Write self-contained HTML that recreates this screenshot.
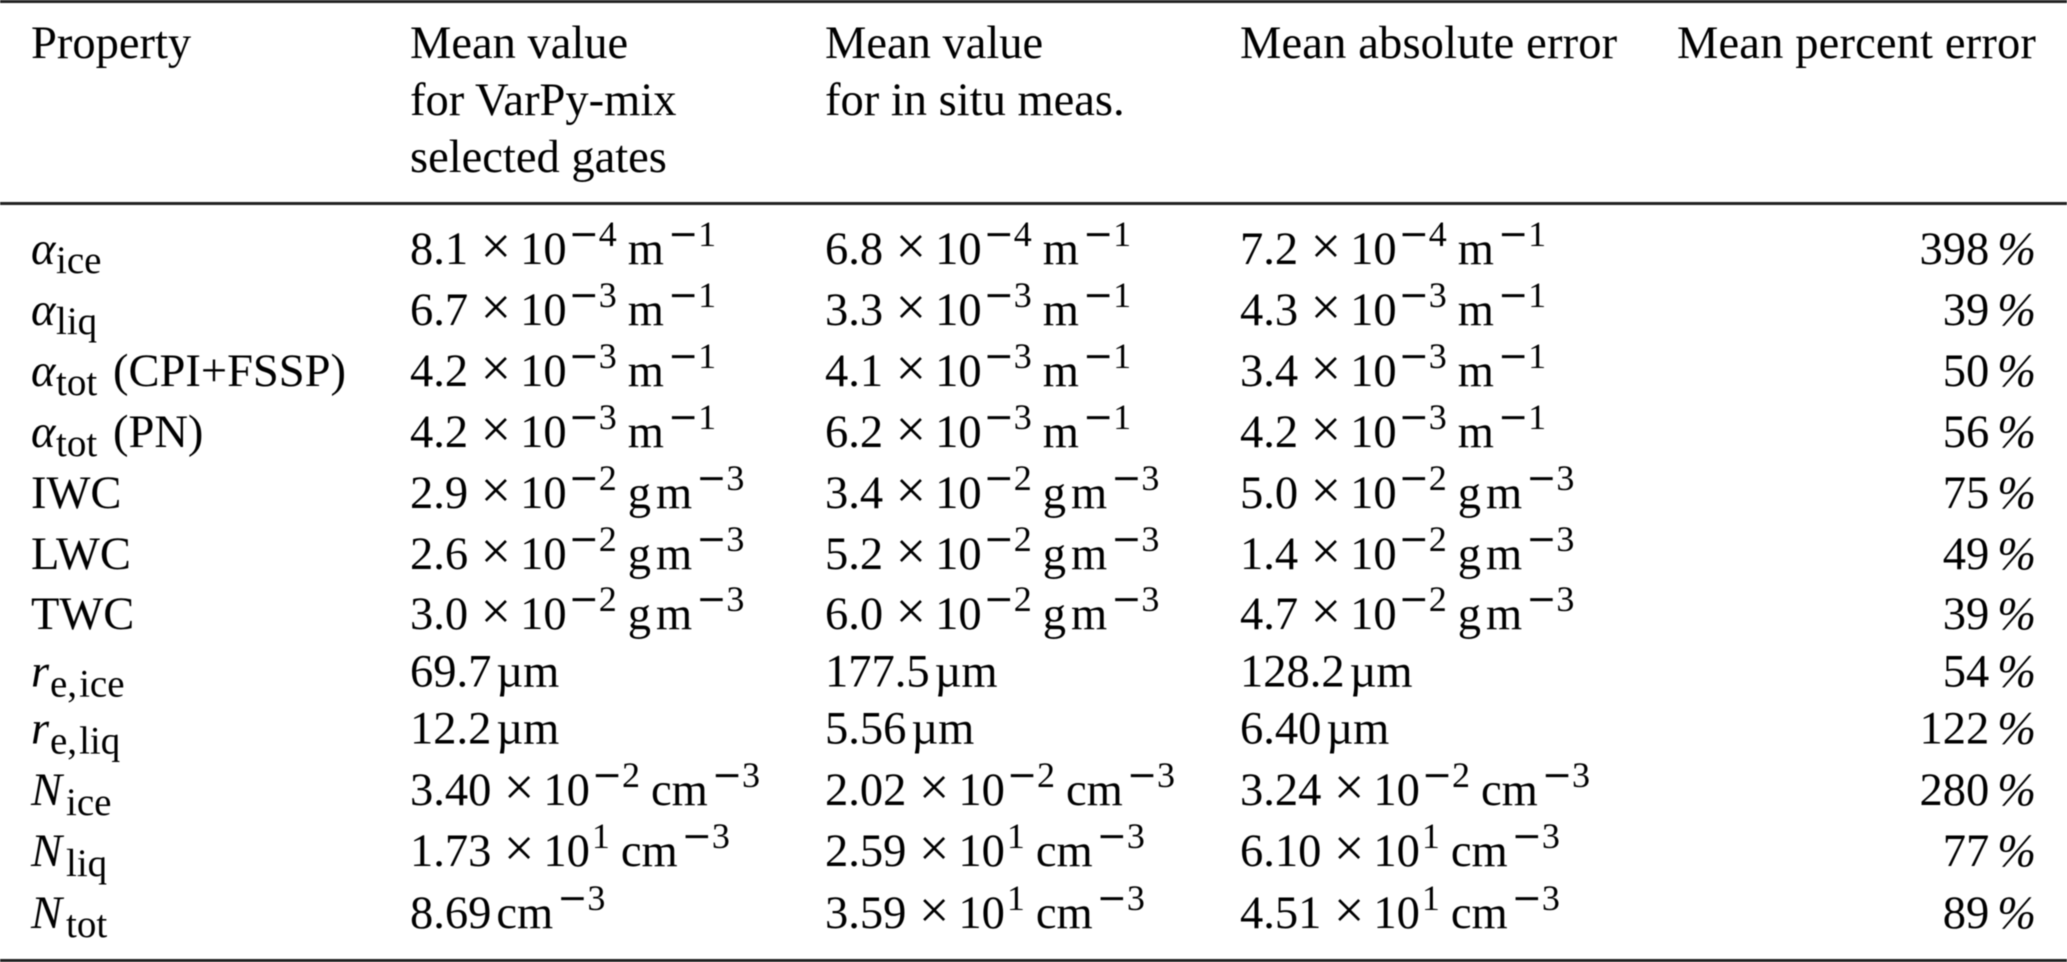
<!DOCTYPE html>
<html lang="en"><head><meta charset="utf-8"><title>Property error table</title>
<style>
html,body{margin:0;padding:0;background:#fff;width:2067px;height:962px;overflow:hidden}
svg{display:block;filter:blur(.45px)}
text{font-family:"Liberation Serif",serif;font-size:46.5px;fill:#000;white-space:pre}
.s{font-size:36px}
.m{font-size:36px;font-family:"DejaVu Sans",sans-serif}
.u{font-size:39px}
.x{font-size:54px}
.i{font-style:italic}
.r{text-anchor:end}
.w{letter-spacing:.15px}
</style></head>
<body>
<svg width="2067" height="962" viewBox="0 0 2067 962" xmlns="http://www.w3.org/2000/svg">
<rect x="-2" y="-2" width="2071" height="5" fill="#222"/>
<rect x="-2" y="202" width="2071" height="3" fill="#222"/>
<rect x="-2" y="959" width="2071" height="5" fill="#222"/>

<g>
<text x="31" y="58">Property</text>
<text x="410" y="58">Mean value</text>
<text x="410" y="115">for VarPy-mix</text>
<text x="410" y="172">selected gates</text>
<text x="825" y="58">Mean value</text>
<text x="825" y="115">for in situ meas.</text>
<text class="w" x="1240" y="58">Mean absolute error</text>
<text class="r w" x="2036" y="58">Mean percent error</text>
</g>

<g>
<text x="31" y="264"><tspan class="i">α</tspan><tspan class="u" x="56" dy="9">ice</tspan></text>
<text x="410" y="264">8.1<tspan class="x" dx="12.5">×</tspan><tspan dx="9">10</tspan><tspan class="m" dx="2" dy="-18">−</tspan><tspan class="s">4</tspan><tspan dx="11" dy="18">m</tspan><tspan class="m" dx="4" dy="-18">−</tspan><tspan class="s">1</tspan></text>
<text x="825" y="264">6.8<tspan class="x" dx="12.5">×</tspan><tspan dx="9">10</tspan><tspan class="m" dx="2" dy="-18">−</tspan><tspan class="s">4</tspan><tspan dx="11" dy="18">m</tspan><tspan class="m" dx="4" dy="-18">−</tspan><tspan class="s">1</tspan></text>
<text x="1240" y="264">7.2<tspan class="x" dx="12.5">×</tspan><tspan dx="9">10</tspan><tspan class="m" dx="2" dy="-18">−</tspan><tspan class="s">4</tspan><tspan dx="11" dy="18">m</tspan><tspan class="m" dx="4" dy="-18">−</tspan><tspan class="s">1</tspan></text>
<text class="r" x="2036" y="264">398<tspan class="i" dx="8">%</tspan></text>
</g>

<g>
<text x="31" y="325"><tspan class="i">α</tspan><tspan class="u" x="56" dy="9">liq</tspan></text>
<text x="410" y="325">6.7<tspan class="x" dx="12.5">×</tspan><tspan dx="9">10</tspan><tspan class="m" dx="2" dy="-18">−</tspan><tspan class="s">3</tspan><tspan dx="11" dy="18">m</tspan><tspan class="m" dx="4" dy="-18">−</tspan><tspan class="s">1</tspan></text>
<text x="825" y="325">3.3<tspan class="x" dx="12.5">×</tspan><tspan dx="9">10</tspan><tspan class="m" dx="2" dy="-18">−</tspan><tspan class="s">3</tspan><tspan dx="11" dy="18">m</tspan><tspan class="m" dx="4" dy="-18">−</tspan><tspan class="s">1</tspan></text>
<text x="1240" y="325">4.3<tspan class="x" dx="12.5">×</tspan><tspan dx="9">10</tspan><tspan class="m" dx="2" dy="-18">−</tspan><tspan class="s">3</tspan><tspan dx="11" dy="18">m</tspan><tspan class="m" dx="4" dy="-18">−</tspan><tspan class="s">1</tspan></text>
<text class="r" x="2036" y="325">39<tspan class="i" dx="8">%</tspan></text>
</g>

<g>
<text x="31" y="386"><tspan class="i">α</tspan><tspan class="u" x="56" dy="9">tot</tspan><tspan x="113" dy="-9">(CPI+FSSP)</tspan></text>
<text x="410" y="386">4.2<tspan class="x" dx="12.5">×</tspan><tspan dx="9">10</tspan><tspan class="m" dx="2" dy="-18">−</tspan><tspan class="s">3</tspan><tspan dx="11" dy="18">m</tspan><tspan class="m" dx="4" dy="-18">−</tspan><tspan class="s">1</tspan></text>
<text x="825" y="386">4.1<tspan class="x" dx="12.5">×</tspan><tspan dx="9">10</tspan><tspan class="m" dx="2" dy="-18">−</tspan><tspan class="s">3</tspan><tspan dx="11" dy="18">m</tspan><tspan class="m" dx="4" dy="-18">−</tspan><tspan class="s">1</tspan></text>
<text x="1240" y="386">3.4<tspan class="x" dx="12.5">×</tspan><tspan dx="9">10</tspan><tspan class="m" dx="2" dy="-18">−</tspan><tspan class="s">3</tspan><tspan dx="11" dy="18">m</tspan><tspan class="m" dx="4" dy="-18">−</tspan><tspan class="s">1</tspan></text>
<text class="r" x="2036" y="386">50<tspan class="i" dx="8">%</tspan></text>
</g>

<g>
<text x="31" y="447"><tspan class="i">α</tspan><tspan class="u" x="56" dy="9">tot</tspan><tspan x="113" dy="-9">(PN)</tspan></text>
<text x="410" y="447">4.2<tspan class="x" dx="12.5">×</tspan><tspan dx="9">10</tspan><tspan class="m" dx="2" dy="-18">−</tspan><tspan class="s">3</tspan><tspan dx="11" dy="18">m</tspan><tspan class="m" dx="4" dy="-18">−</tspan><tspan class="s">1</tspan></text>
<text x="825" y="447">6.2<tspan class="x" dx="12.5">×</tspan><tspan dx="9">10</tspan><tspan class="m" dx="2" dy="-18">−</tspan><tspan class="s">3</tspan><tspan dx="11" dy="18">m</tspan><tspan class="m" dx="4" dy="-18">−</tspan><tspan class="s">1</tspan></text>
<text x="1240" y="447">4.2<tspan class="x" dx="12.5">×</tspan><tspan dx="9">10</tspan><tspan class="m" dx="2" dy="-18">−</tspan><tspan class="s">3</tspan><tspan dx="11" dy="18">m</tspan><tspan class="m" dx="4" dy="-18">−</tspan><tspan class="s">1</tspan></text>
<text class="r" x="2036" y="447">56<tspan class="i" dx="8">%</tspan></text>
</g>

<g>
<text x="31" y="508">IWC</text>
<text x="410" y="508">2.9<tspan class="x" dx="12.5">×</tspan><tspan dx="9">10</tspan><tspan class="m" dx="2" dy="-18">−</tspan><tspan class="s">2</tspan><tspan dx="11" dy="18">g</tspan><tspan dx="5">m</tspan><tspan class="m" dx="4" dy="-18">−</tspan><tspan class="s">3</tspan></text>
<text x="825" y="508">3.4<tspan class="x" dx="12.5">×</tspan><tspan dx="9">10</tspan><tspan class="m" dx="2" dy="-18">−</tspan><tspan class="s">2</tspan><tspan dx="11" dy="18">g</tspan><tspan dx="5">m</tspan><tspan class="m" dx="4" dy="-18">−</tspan><tspan class="s">3</tspan></text>
<text x="1240" y="508">5.0<tspan class="x" dx="12.5">×</tspan><tspan dx="9">10</tspan><tspan class="m" dx="2" dy="-18">−</tspan><tspan class="s">2</tspan><tspan dx="11" dy="18">g</tspan><tspan dx="5">m</tspan><tspan class="m" dx="4" dy="-18">−</tspan><tspan class="s">3</tspan></text>
<text class="r" x="2036" y="508">75<tspan class="i" dx="8">%</tspan></text>
</g>

<g>
<text x="31" y="569">LWC</text>
<text x="410" y="569">2.6<tspan class="x" dx="12.5">×</tspan><tspan dx="9">10</tspan><tspan class="m" dx="2" dy="-18">−</tspan><tspan class="s">2</tspan><tspan dx="11" dy="18">g</tspan><tspan dx="5">m</tspan><tspan class="m" dx="4" dy="-18">−</tspan><tspan class="s">3</tspan></text>
<text x="825" y="569">5.2<tspan class="x" dx="12.5">×</tspan><tspan dx="9">10</tspan><tspan class="m" dx="2" dy="-18">−</tspan><tspan class="s">2</tspan><tspan dx="11" dy="18">g</tspan><tspan dx="5">m</tspan><tspan class="m" dx="4" dy="-18">−</tspan><tspan class="s">3</tspan></text>
<text x="1240" y="569">1.4<tspan class="x" dx="12.5">×</tspan><tspan dx="9">10</tspan><tspan class="m" dx="2" dy="-18">−</tspan><tspan class="s">2</tspan><tspan dx="11" dy="18">g</tspan><tspan dx="5">m</tspan><tspan class="m" dx="4" dy="-18">−</tspan><tspan class="s">3</tspan></text>
<text class="r" x="2036" y="569">49<tspan class="i" dx="8">%</tspan></text>
</g>

<g>
<text x="31" y="629">TWC</text>
<text x="410" y="629">3.0<tspan class="x" dx="12.5">×</tspan><tspan dx="9">10</tspan><tspan class="m" dx="2" dy="-18">−</tspan><tspan class="s">2</tspan><tspan dx="11" dy="18">g</tspan><tspan dx="5">m</tspan><tspan class="m" dx="4" dy="-18">−</tspan><tspan class="s">3</tspan></text>
<text x="825" y="629">6.0<tspan class="x" dx="12.5">×</tspan><tspan dx="9">10</tspan><tspan class="m" dx="2" dy="-18">−</tspan><tspan class="s">2</tspan><tspan dx="11" dy="18">g</tspan><tspan dx="5">m</tspan><tspan class="m" dx="4" dy="-18">−</tspan><tspan class="s">3</tspan></text>
<text x="1240" y="629">4.7<tspan class="x" dx="12.5">×</tspan><tspan dx="9">10</tspan><tspan class="m" dx="2" dy="-18">−</tspan><tspan class="s">2</tspan><tspan dx="11" dy="18">g</tspan><tspan dx="5">m</tspan><tspan class="m" dx="4" dy="-18">−</tspan><tspan class="s">3</tspan></text>
<text class="r" x="2036" y="629">39<tspan class="i" dx="8">%</tspan></text>
</g>

<g>
<text x="31" y="686.5"><tspan class="i">r</tspan><tspan class="u" x="50" dy="10">e,</tspan><tspan class="u" dx="2">ice</tspan></text>
<text x="410" y="686.5">69.7<tspan dx="5">µm</tspan></text>
<text x="825" y="686.5">177.5<tspan dx="5">µm</tspan></text>
<text x="1240" y="686.5">128.2<tspan dx="5">µm</tspan></text>
<text class="r" x="2036" y="686.5">54<tspan class="i" dx="8">%</tspan></text>
</g>

<g>
<text x="31" y="743.5"><tspan class="i">r</tspan><tspan class="u" x="50" dy="10">e,</tspan><tspan class="u" dx="2">liq</tspan></text>
<text x="410" y="743.5">12.2<tspan dx="5">µm</tspan></text>
<text x="825" y="743.5">5.56<tspan dx="5">µm</tspan></text>
<text x="1240" y="743.5">6.40<tspan dx="5">µm</tspan></text>
<text class="r" x="2036" y="743.5">122<tspan class="i" dx="8">%</tspan></text>
</g>

<g>
<text x="31" y="805"><tspan class="i">N</tspan><tspan class="u" x="66" dy="10">ice</tspan></text>
<text x="410" y="805">3.40<tspan class="x" dx="12.5">×</tspan><tspan dx="9">10</tspan><tspan class="m" dx="2" dy="-18">−</tspan><tspan class="s">2</tspan><tspan dx="11" dy="18">cm</tspan><tspan class="m" dx="4" dy="-18">−</tspan><tspan class="s">3</tspan></text>
<text x="825" y="805">2.02<tspan class="x" dx="12.5">×</tspan><tspan dx="9">10</tspan><tspan class="m" dx="2" dy="-18">−</tspan><tspan class="s">2</tspan><tspan dx="11" dy="18">cm</tspan><tspan class="m" dx="4" dy="-18">−</tspan><tspan class="s">3</tspan></text>
<text x="1240" y="805">3.24<tspan class="x" dx="12.5">×</tspan><tspan dx="9">10</tspan><tspan class="m" dx="2" dy="-18">−</tspan><tspan class="s">2</tspan><tspan dx="11" dy="18">cm</tspan><tspan class="m" dx="4" dy="-18">−</tspan><tspan class="s">3</tspan></text>
<text class="r" x="2036" y="805">280<tspan class="i" dx="8">%</tspan></text>
</g>

<g>
<text x="31" y="866"><tspan class="i">N</tspan><tspan class="u" x="66" dy="10">liq</tspan></text>
<text x="410" y="866">1.73<tspan class="x" dx="12.5">×</tspan><tspan dx="9">10</tspan><tspan class="s" dx="2" dy="-18">1</tspan><tspan dx="11" dy="18">cm</tspan><tspan class="m" dx="4" dy="-18">−</tspan><tspan class="s">3</tspan></text>
<text x="825" y="866">2.59<tspan class="x" dx="12.5">×</tspan><tspan dx="9">10</tspan><tspan class="s" dx="2" dy="-18">1</tspan><tspan dx="11" dy="18">cm</tspan><tspan class="m" dx="4" dy="-18">−</tspan><tspan class="s">3</tspan></text>
<text x="1240" y="866">6.10<tspan class="x" dx="12.5">×</tspan><tspan dx="9">10</tspan><tspan class="s" dx="2" dy="-18">1</tspan><tspan dx="11" dy="18">cm</tspan><tspan class="m" dx="4" dy="-18">−</tspan><tspan class="s">3</tspan></text>
<text class="r" x="2036" y="866">77<tspan class="i" dx="8">%</tspan></text>
</g>

<g>
<text x="31" y="928"><tspan class="i">N</tspan><tspan class="u" x="66" dy="9">tot</tspan></text>
<text x="410" y="928">8.69<tspan dx="5">cm</tspan><tspan class="m" dx="4" dy="-18">−</tspan><tspan class="s">3</tspan></text>
<text x="825" y="928">3.59<tspan class="x" dx="12.5">×</tspan><tspan dx="9">10</tspan><tspan class="s" dx="2" dy="-18">1</tspan><tspan dx="11" dy="18">cm</tspan><tspan class="m" dx="4" dy="-18">−</tspan><tspan class="s">3</tspan></text>
<text x="1240" y="928">4.51<tspan class="x" dx="12.5">×</tspan><tspan dx="9">10</tspan><tspan class="s" dx="2" dy="-18">1</tspan><tspan dx="11" dy="18">cm</tspan><tspan class="m" dx="4" dy="-18">−</tspan><tspan class="s">3</tspan></text>
<text class="r" x="2036" y="928">89<tspan class="i" dx="8">%</tspan></text>
</g>
</svg>
</body></html>
